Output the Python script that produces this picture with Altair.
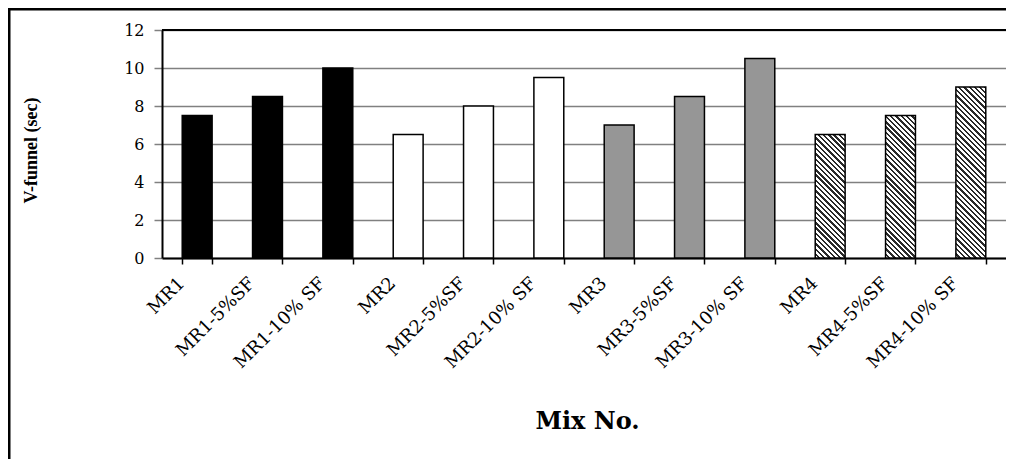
import altair as alt
import pandas as pd

mixes = ["MR1", "MR1-5%SF", "MR1-10% SF",
         "MR2", "MR2-5%SF", "MR2-10% SF",
         "MR3", "MR3-5%SF", "MR3-10% SF",
         "MR4", "MR4-5%SF", "MR4-10% SF"]
groups = ["MR1"] * 3 + ["MR2"] * 3 + ["MR3"] * 3 + ["MR4"] * 3
values = [7.5, 8.5, 10.0, 6.5, 8.0, 9.5, 7.0, 8.5, 10.5, 6.5, 7.5, 9.0]
y_ticks = [0, 2, 4, 6, 8, 10, 12]

df = pd.DataFrame({"mix": mixes, "group": groups, "value": values})

PLOT_W = 844
PLOT_H = 228
Y_MAX = 12
PAD_INNER = 0.575
BAR_W = PLOT_W / len(mixes) * (1 - PAD_INNER)

x_enc = alt.X("mix:N", sort=mixes, title="Mix No.",
              scale=alt.Scale(paddingInner=PAD_INNER, paddingOuter=PAD_INNER / 2),
              axis=alt.Axis(labelAngle=-45, labelAlign="right", labelBaseline="top",
                            labelFont="DejaVu Serif", labelFontSize=18, labelColor="black",
                            labelPadding=10, labelOffset=-22,
                            tickBand="extent", tickColor="black", tickSize=6, tickWidth=1.5,
                            domainColor="black", domainWidth=2, grid=False,
                            titleFont="DejaVu Serif", titleFontWeight="bold", titleFontSize=24,
                            titleColor="black", titleX=425, titleY=170,
                            titleBaseline="alphabetic", titleAlign="center"))
y_enc = alt.Y("value:Q", title="V-funnel (sec)",
              scale=alt.Scale(domain=[0, Y_MAX], nice=False),
              axis=alt.Axis(values=y_ticks, labelFont="DejaVu Serif", labelFontSize=16,
                            labelColor="black", labelPadding=10,
                            tickColor="#808080", tickSize=8, tickWidth=1.5,
                            domainColor="black", domainWidth=2,
                            grid=True, gridColor="#808080", gridWidth=1.5,
                            titleFont="Liberation Serif", titleFontWeight="bold",
                            titleFontSize=18, titleColor="black", titleAngle=-90,
                            titleX=-131, titleY=PLOT_H / 2 + 6, titleBaseline="middle",
                            titleAlign="center"))

base = alt.Chart(df)

solid = base.transform_filter(alt.datum.group != "MR4").mark_bar(
    stroke="black", strokeWidth=1.5).encode(
    x=x_enc, y=y_enc,
    fill=alt.Fill("group:N", legend=None,
                  scale=alt.Scale(domain=["MR1", "MR2", "MR3"],
                                  range=["black", "white", "#969696"])))


def hatch(value, period=5.3, dark=0.45):
    H = value / Y_MAX * PLOT_H
    W = BAR_W
    L = W + H
    s = L / (W * W + H * H)
    n = L / period
    stops = []
    i = 0
    while i < n:
        a = i / n
        b = min((i + 1 - dark) / n, 1.0)
        c = min((i + 1) / n, 1.0)
        stops += [alt.GradientStop(offset=a, color="white"),
                  alt.GradientStop(offset=b, color="white")]
        if b < 1.0:
            stops += [alt.GradientStop(offset=b, color="#2a2a2a"),
                      alt.GradientStop(offset=c, color="#2a2a2a")]
        i += 1
    return alt.LinearGradient(gradient="linear", stops=stops,
                              x1=0, y1=1, x2=W * s, y2=1 - H * s)


hatched = []
for m, g, v in zip(mixes, groups, values):
    if g == "MR4":
        hatched.append(
            base.transform_filter(alt.datum.mix == m).mark_bar(
                stroke="black", strokeWidth=1.5, fill=hatch(v)).encode(x=x_enc, y=y_enc))

top_line = alt.Chart(pd.DataFrame({"value": [Y_MAX]})).mark_rule(
    color="black", strokeWidth=2).encode(y=y_enc)

frame_one = pd.DataFrame({"k": [0]})
frame_left = alt.Chart(frame_one).mark_rule(
    color="black", strokeWidth=3, clip=False).encode(
    x=alt.value(-153), y=alt.value(-22.5), y2=alt.value(PLOT_H + 201))
frame_top = alt.Chart(frame_one).mark_rule(
    color="black", strokeWidth=3, clip=False).encode(
    y=alt.value(-21), x=alt.value(-154.5), x2=alt.value(PLOT_W))

chart = alt.layer(solid, *hatched, top_line, frame_left, frame_top).properties(
    width=PLOT_W, height=PLOT_H,
    autosize=alt.AutoSizeParams(type="none"),
    padding={"left": 154, "top": 22, "right": 0, "bottom": 201},
).configure_view(stroke=None).configure(background="white")

chart.save("out.html", embed_options={"renderer": "svg", "actions": False})
